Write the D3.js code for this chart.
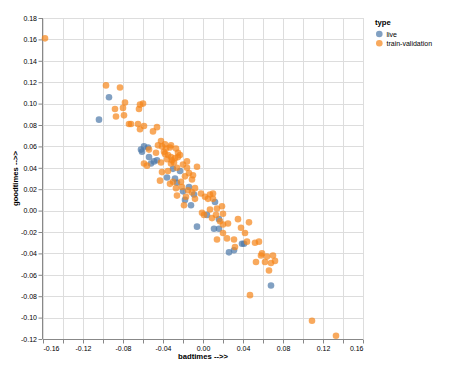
<!DOCTYPE html>
<html lang="en">
  <head>
    <meta charset="utf-8">
    <title>goodtimes vs badtimes</title>
    <script src="https://d3js.org/d3.v7.min.js"></script>
    <style>
      body { margin: 0; background: #fff; }
      text { font-family: "Liberation Sans", Arial, sans-serif; }
      .grid line { stroke: #ddd; stroke-width: 1; }
      .axis path, .axis line { stroke: #888; }
    </style>
  </head>
  <body>
    <div id="chart"></div>
    <script>
      var categories = ["live", "train-validation"];
      var colors = ["#4c78a8", "#f58518"];

      // [badtimes, goodtimes]
      var livePoints = [
        [-0.094, 0.106], [-0.104, 0.085], [-0.059, 0.060], [-0.062, 0.057], [-0.061, 0.055],
        [-0.055, 0.059], [-0.054, 0.050], [-0.052, 0.044], [-0.049, 0.046], [-0.046, 0.047],
        [-0.030, 0.039], [-0.023, 0.037], [-0.036, 0.031], [-0.028, 0.030], [-0.026, 0.026],
        [-0.014, 0.022], [-0.020, 0.018], [-0.009, 0.015], [-0.018, 0.010], [-0.012, 0.005],
        [0.012, 0.008], [0.004, -0.004], [0.016, -0.008], [-0.006, -0.015], [0.011, -0.017],
        [0.016, -0.017], [0.026, -0.039], [0.031, -0.037], [0.039, -0.031], [0.041, -0.031],
        [0.068, -0.070]
      ];
      var trainPoints = [
        [-0.158, 0.161], [-0.097, 0.117], [-0.083, 0.115], [-0.078, 0.101], [-0.060, 0.100],
        [-0.063, 0.099], [-0.088, 0.095], [-0.080, 0.096], [-0.064, 0.095], [-0.087, 0.088],
        [-0.079, 0.089], [-0.074, 0.081], [-0.072, 0.081], [-0.065, 0.081], [-0.063, 0.076],
        [-0.059, 0.079], [-0.050, 0.074], [-0.046, 0.078], [-0.042, 0.065], [-0.054, 0.057],
        [-0.047, 0.054], [-0.041, 0.060], [-0.032, 0.061], [-0.039, 0.055], [-0.059, 0.044],
        [-0.056, 0.042], [-0.035, 0.052], [-0.032, 0.050], [-0.031, 0.047], [-0.025, 0.054],
        [-0.028, 0.049], [-0.025, 0.050], [-0.036, 0.048], [-0.032, 0.044], [-0.029, 0.045],
        [-0.016, 0.046], [-0.006, 0.041], [-0.016, 0.040], [-0.026, 0.040], [-0.041, 0.036],
        [-0.035, 0.037], [-0.014, 0.035], [-0.010, 0.033], [-0.043, 0.028], [-0.018, 0.032],
        [-0.011, 0.029], [-0.033, 0.025], [-0.038, 0.053], [-0.042, 0.045], [-0.020, 0.043],
        [-0.022, 0.027], [-0.030, 0.027], [-0.026, 0.014], [-0.027, 0.021], [-0.021, 0.022],
        [-0.015, 0.019], [-0.008, 0.021], [-0.017, 0.013], [-0.019, 0.005], [-0.002, 0.016],
        [0.002, 0.013], [0.005, 0.011], [0.007, 0.015], [0.010, 0.016], [0.010, 0.011],
        [-0.011, 0.017], [-0.008, 0.011], [0.014, 0.002], [0.019, 0.004], [0.020, -0.003],
        [-0.001, -0.002], [0.001, -0.004], [0.009, -0.007], [0.007, 0.001], [0.013, -0.004],
        [0.017, -0.010], [0.025, -0.012], [0.020, -0.013], [0.035, -0.008], [0.046, -0.011],
        [0.038, -0.016], [0.042, -0.021], [0.020, -0.021], [0.014, -0.027], [0.024, -0.026],
        [0.031, -0.027], [0.032, -0.034], [0.044, -0.029], [0.052, -0.030], [0.056, -0.029],
        [0.059, -0.040], [0.058, -0.042], [0.064, -0.043], [0.070, -0.042], [0.072, -0.047],
        [0.068, -0.049], [0.062, -0.048], [0.053, -0.048], [0.066, -0.056], [0.047, -0.079],
        [0.109, -0.103], [0.133, -0.117],
        [-0.033, 0.059], [-0.037, 0.058], [-0.027, 0.058], [-0.023, 0.052], [-0.038, 0.062],
        [-0.045, 0.061]
      ];

      var xTicks = d3.range(-16, 17, 2).map(function(d) { return d / 100; });
      var xLabels = d3.range(-16, 17, 4).map(function(d) { return d / 100; });
      var yTicks = d3.range(-12, 19, 2).map(function(d) { return d / 100; });

      var width = 464, height = 369;
      var marginLeft = 43, marginTop = 18, plotW = 320, plotH = 321;

      var svg = d3.select("#chart").append("svg")
        .attr("width", width)
        .attr("height", height);

      var x = d3.scaleLinear().domain([-0.16, 0.16]).range([marginLeft, marginLeft + plotW]);
      var y = d3.scaleLinear().domain([-0.12, 0.18]).range([marginTop + plotH, marginTop]);
      var fmt = function(d) { return d3.format(".2f")(d).replace("\u2212", "-"); };

      // grid
      var grid = svg.append("g").attr("class", "grid");
      grid.selectAll("line.v").data(xTicks).enter().append("line")
        .attr("class", "v")
        .attr("x1", function(d) { return Math.round(x(d)) + 0.5; })
        .attr("x2", function(d) { return Math.round(x(d)) + 0.5; })
        .attr("y1", marginTop).attr("y2", marginTop + plotH);
      grid.selectAll("line.h").data(yTicks).enter().append("line")
        .attr("class", "h")
        .attr("y1", function(d) { return Math.round(y(d)) + 0.5; })
        .attr("y2", function(d) { return Math.round(y(d)) + 0.5; })
        .attr("x1", marginLeft).attr("x2", marginLeft + plotW);

      // axes
      var xAxis = d3.axisBottom(x).tickValues(xTicks).tickSize(4).tickSizeOuter(0)
        .tickFormat(function(d) { return xLabels.some(function(v) { return Math.abs(v - d) < 1e-9; }) ? fmt(d) : ""; });
      var gx = svg.append("g").attr("class", "axis")
        .attr("transform", "translate(0," + (marginTop + plotH + 0.5) + ")")
        .call(xAxis);
      gx.selectAll("text").attr("font-size", 7).attr("fill", "#000").attr("dy", "0.7em");
      gx.selectAll(".tick text").filter(function(d) { return d === xTicks[0]; }).attr("text-anchor", "start");
      gx.selectAll(".tick text").filter(function(d) { return d === xTicks[xTicks.length - 1]; }).attr("text-anchor", "end");
      gx.select(".domain").attr("d", "M" + marginLeft + ",0H" + (marginLeft + plotW));

      var yAxis = d3.axisLeft(y).tickValues(yTicks).tickSize(4).tickSizeOuter(0).tickFormat(fmt);
      var gy = svg.append("g").attr("class", "axis")
        .attr("transform", "translate(" + (marginLeft - 0.5) + ",0)")
        .call(yAxis);
      gy.selectAll("text").attr("font-size", 7).attr("fill", "#000").attr("x", -5.5);
      gy.select(".domain").attr("d", "M0," + marginTop + "V" + (marginTop + plotH));
      svg.selectAll(".axis").attr("font-family", null);

      // axis titles
      svg.append("text")
        .attr("x", marginLeft + plotW / 2)
        .attr("y", 359)
        .attr("text-anchor", "middle")
        .attr("font-size", 7.7)
        .attr("font-weight", "bold")
        .text("badtimes -->>");
      svg.append("text")
        .attr("transform", "translate(18," + (marginTop + plotH / 2) + ") rotate(-90)")
        .attr("text-anchor", "middle")
        .attr("font-size", 7.7)
        .attr("font-weight", "bold")
        .text("goodtimes -->>");

      // points
      var series = [livePoints, trainPoints];
      series.forEach(function(pts, i) {
        svg.append("g").selectAll("circle").data(pts).enter().append("circle")
          .attr("cx", function(d) { return x(d[0]); })
          .attr("cy", function(d) { return y(d[1]); })
          .attr("r", 3.3)
          .attr("fill", colors[i])
          .attr("fill-opacity", 0.7);
      });

      // legend
      var legend = svg.append("g").attr("transform", "translate(375,0)");
      legend.append("text")
        .attr("x", 0).attr("y", 25)
        .attr("font-size", 7.7)
        .attr("font-weight", "bold")
        .text("type");
      var items = legend.selectAll("g.item").data(categories).enter().append("g")
        .attr("class", "item")
        .attr("transform", function(d, i) { return "translate(0," + (34 + i * 9.3) + ")"; });
      items.append("circle")
        .attr("cx", 4.3).attr("cy", 0).attr("r", 3.3)
        .attr("fill", function(d, i) { return colors[i]; })
        .attr("fill-opacity", 0.7);
      items.append("text")
        .attr("x", 11.5).attr("y", 2.5)
        .attr("font-size", 7)
        .text(function(d) { return d; });
    </script>
  </body>
</html>
